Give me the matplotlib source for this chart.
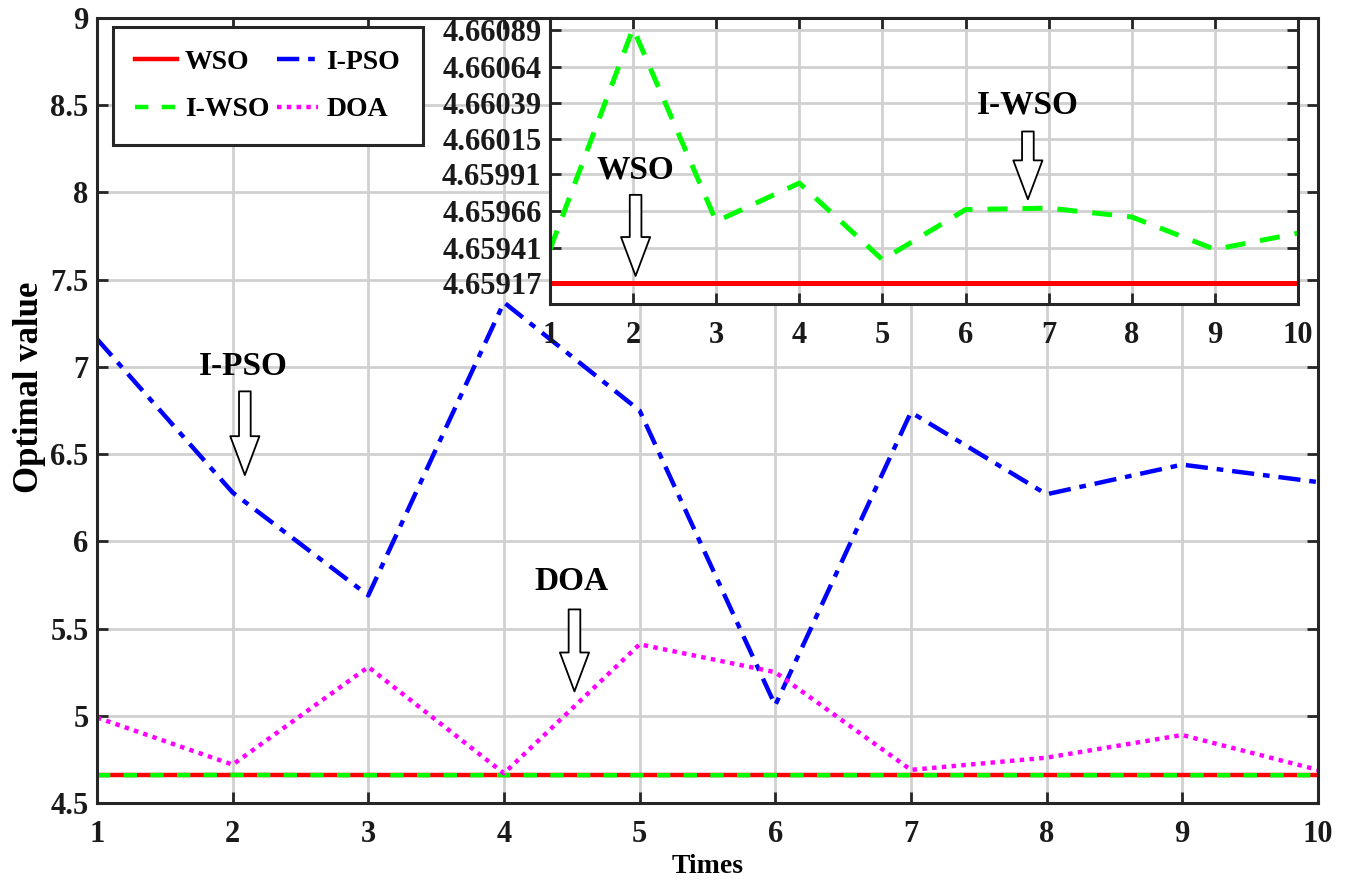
import numpy as np
import matplotlib
matplotlib.use("Agg")
from matplotlib import pyplot as plt

plt.rcParams['font.family'] = ['Liberation Serif', 'DejaVu Serif']
plt.rcParams['font.weight'] = 'bold'

times = [1, 2, 3, 4, 5, 6, 7, 8, 9, 10]
wso = [4.65917] * 10
i_wso = [4.65940, 4.66090, 4.65959, 4.65985, 4.65933, 4.65967, 4.65968, 4.65962, 4.65940, 4.65951]
i_pso = [7.16, 6.28, 5.69, 7.37, 6.75, 5.06, 6.74, 6.27, 6.44, 6.34]
doa = [4.99, 4.72, 5.28, 4.67, 5.41, 5.25, 4.69, 4.76, 4.89, 4.69]

inset_ticks = [4.65917, 4.65941, 4.65966, 4.65991, 4.66015, 4.66039, 4.66064, 4.66089]
inset_labels = ['4.65917', '4.65941', '4.65966', '4.65991', '4.66015', '4.66039', '4.66064', '4.66089']

spine_col = '#262626'
grid_col = '#d0d0d0'


def style_axes(ax):
    for s in ax.spines.values():
        s.set_linewidth(2.2)
        s.set_color(spine_col)
    ax.tick_params(direction='in', top=True, right=True, length=8, width=2,
                   colors=spine_col, labelcolor='#1a1a1a', labelsize=22, pad=6)
    ax.tick_params(axis='x', pad=12)
    ax.grid(True, color=grid_col, linewidth=2)
    ax.set_axisbelow(True)


def hollow_arrow(ax, x, y_tail, y_tip):
    ax.annotate('', xy=(x, y_tip), xytext=(x, y_tail),
                arrowprops=dict(arrowstyle='simple,head_length=1.4,head_width=1.05,tail_width=0.42',
                                fc='white', ec='black', lw=1.3, mutation_scale=20,
                                shrinkA=0, shrinkB=0))


fig = plt.figure(figsize=(13.49, 8.81), dpi=100)
ax = fig.add_axes([0.0719, 0.0885, 0.905, 0.891])
style_axes(ax)

ax.plot(times, wso, color='#ff0000', lw=3.2, ls='-', label='WSO')
ax.plot(times, i_wso, color='#00ff00', lw=3.2, ls=(0, (3, 3)), label='I-WSO')
ax.plot(times, i_pso, color='#0000ff', lw=3.2, ls=(0, (5, 2, 1.5, 2)), label='I-PSO')
ax.plot(times, doa, color='#ff00ff', lw=3.2, ls=(0, (1, 1.2)), label='DOA')

ax.set_xlim(1, 10)
ax.set_ylim(4.5, 9)
ax.set_xticks(times)
ax.set_yticks([4.5, 5, 5.5, 6, 6.5, 7, 7.5, 8, 8.5, 9])
ax.set_yticklabels(['4.5', '5', '5.5', '6', '6.5', '7', '7.5', '8', '8.5', '9'])
ax.set_xlabel('Times', fontsize=20, fontweight='bold', labelpad=4)
ax.set_ylabel('Optimal value', fontsize=25, fontweight='bold')
ax.yaxis.set_label_coords(-0.042, 0.53)

leg = ax.legend(ncol=2, loc='upper left', bbox_to_anchor=(0.013, 0.9885), fontsize=20,
                handlelength=1.5, handletextpad=0.3, columnspacing=0.25, labelspacing=0.8,
                fancybox=False, framealpha=1, edgecolor=spine_col, borderpad=0.8,
                borderaxespad=0)
leg.get_frame().set_linewidth(2.2)

ax.text(2.08, 7.0, 'I-PSO', fontsize=24, fontweight='bold', ha='center', va='center')
hollow_arrow(ax, 2.09, 6.86, 6.38)
ax.text(4.50, 5.77, 'DOA', fontsize=24, fontweight='bold', ha='center', va='center')
hollow_arrow(ax, 4.52, 5.61, 5.14)

# inset
ins = fig.add_axes([0.4077, 0.655, 0.5545, 0.3246])
ins.set_zorder(5)
style_axes(ins)
ins.plot(times, wso, color='#ff0000', lw=3.6, ls='-')
ins.plot(times, i_wso, color='#00ff00', lw=3.6, ls=(0, (4, 3)))
ins.set_xlim(1, 10)
ins.set_ylim(4.65903, 4.66097)
ins.set_xticks(times)
ins.set_yticks(inset_ticks)
ins.set_yticklabels(inset_labels)

ins.text(2.03, 4.65994, 'WSO', fontsize=24, fontweight='bold', ha='center', va='center')
hollow_arrow(ins, 2.03, 4.65977, 4.65922)
ins.text(6.75, 4.66038, 'I-WSO', fontsize=24, fontweight='bold', ha='center', va='center')
hollow_arrow(ins, 6.75, 4.66020, 4.65974)

fig.savefig('out.png', dpi=100)
